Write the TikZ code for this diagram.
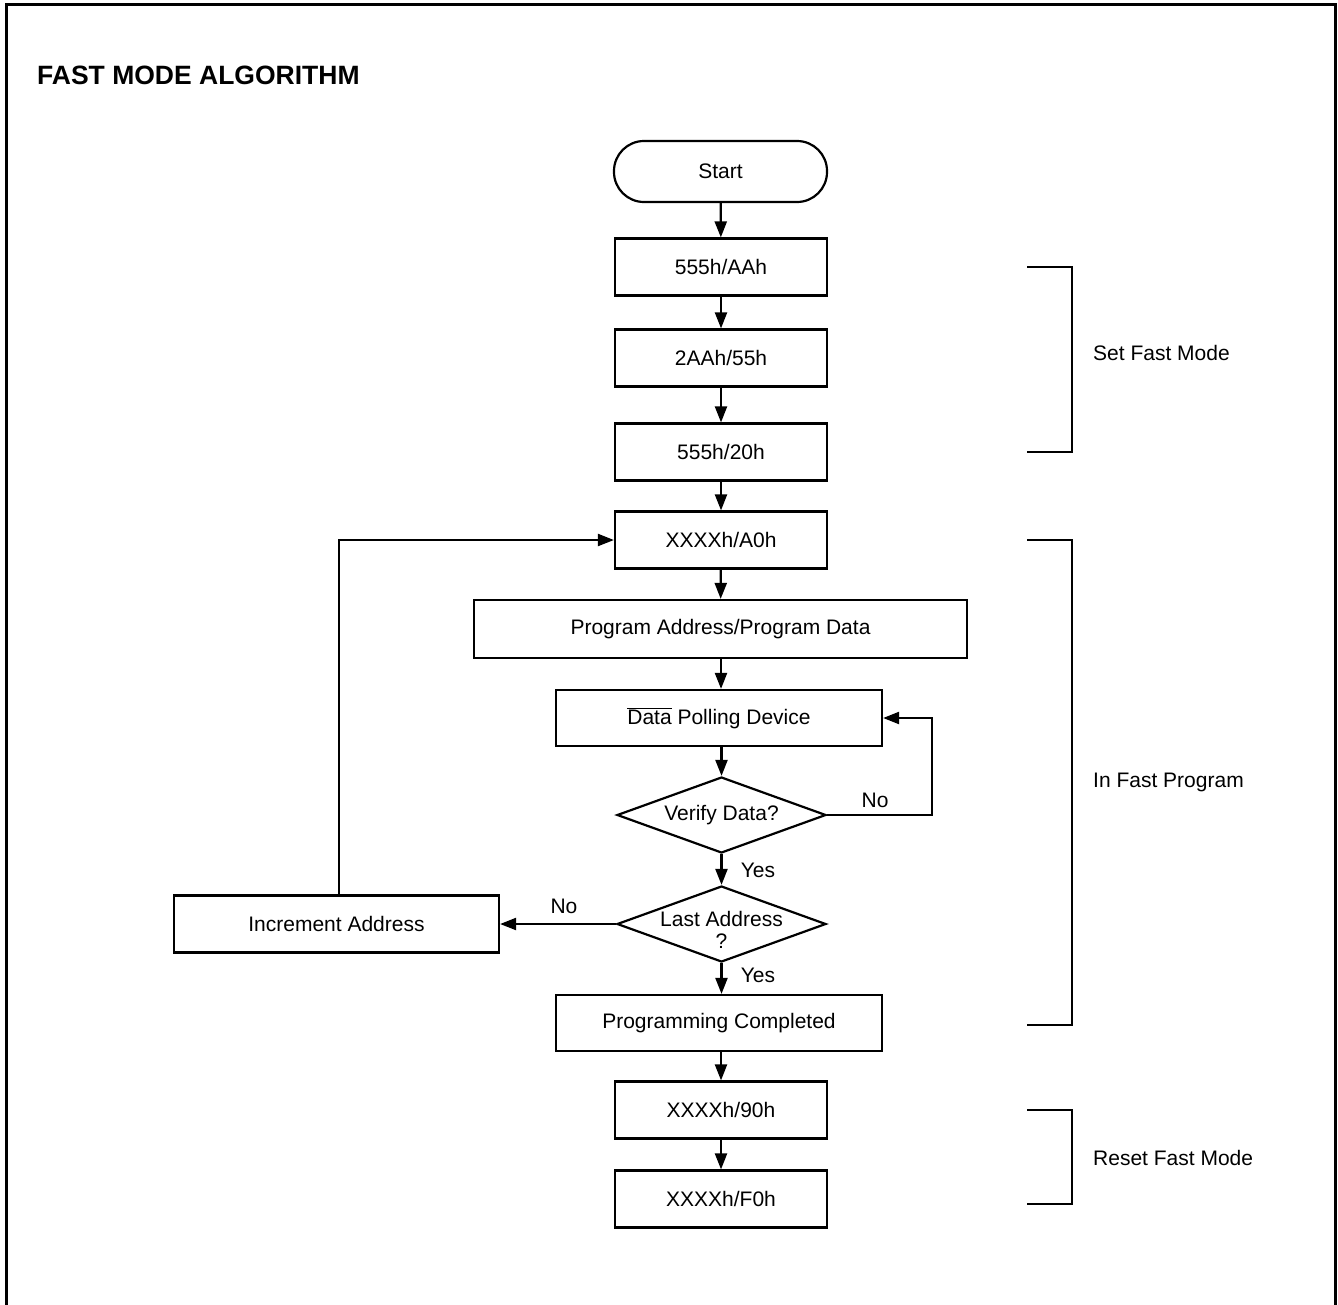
\documentclass[tikz,border=0pt]{standalone}
\usepackage{fontspec}
\setmainfont{Liberation Sans}
\usetikzlibrary{arrows.meta,shapes.geometric,shadows}
\begin{document}
\begin{tikzpicture}[x=1pt,y=-1pt,
  font=\fontsize{21}{25}\selectfont,
  conn/.style={line width=2.2pt,-{Triangle[length=16pt,width=12pt]}},
  stepbox/.style={draw,fill=white,line width=2.2pt,minimum height=57pt,inner sep=0pt,
     drop shadow={shadow xshift=1.2pt,shadow yshift=-1.2pt,fill=black,opacity=1}},
  decision/.style={draw,fill=white,diamond,line width=2.2pt,inner sep=0pt,minimum width=209pt,minimum height=76pt},
  lbl/.style={inner sep=0pt},
  brk/.style={line width=2.2pt}
]
\useasboundingbox (0,0) rectangle (1338,1304);
\draw[line width=3pt] (6,1310) -- (6,4) -- (1335,4) -- (1335,1310);
\node[lbl,anchor=west,font=\fontsize{26.5}{30}\selectfont\bfseries] (title) at (37,75) {FAST MODE ALGORITHM};

\node[draw,line width=2.2pt,rounded corners=30pt,minimum width=213pt,minimum height=61pt,inner sep=0pt] (start) at (720.5,171.5) {Start};
\node[stepbox,minimum width=212pt] (b1) at (721,267) {555h/AAh};
\node[stepbox,minimum width=212pt] (b2) at (721,358) {2AAh/55h};
\node[stepbox,minimum width=212pt] (b3) at (721,452) {555h/20h};
\node[stepbox,minimum width=212pt] (b4) at (721,540) {XXXXh/A0h};
\node[stepbox,minimum width=493pt,minimum height=58pt] (b5) at (720.5,629) {Program Address/Program Data};
\node[stepbox,minimum width=326pt,minimum height=56pt] (b6) at (719,718) {$\overline{\mbox{Data}}$ Polling Device};
\node[decision] (d1) at (721.5,815) {};
\node[lbl] at (d1) {Verify Data?};
\node[decision] (d2) at (721.5,924) {};
\node[lbl] at (721.5,919) {Last Address};
\node[lbl] at (721.5,941) {?};
\node[stepbox,minimum width=325pt,minimum height=57pt] (inc) at (336.5,924) {Increment Address};
\node[stepbox,minimum width=326pt,minimum height=56pt] (b7) at (719,1023) {Programming Completed};
\node[stepbox,minimum width=212pt] (b8) at (721,1110) {XXXXh/90h};
\node[stepbox,minimum width=212pt] (b9) at (721,1199) {XXXXh/F0h};

\draw[conn] (start) -- (b1);
\draw[conn] (b1) -- (b2);
\draw[conn] (b2) -- (b3);
\draw[conn] (b3) -- (b4);
\draw[conn] (b4) -- (b5);
\draw[conn] (b5.south -| b4) -- (b6.north -| b4);
\draw[conn] (b6.south -| d1) -- (d1.north);
\draw[conn] (d1.south) -- (d2.north);
\draw[conn] (d2.south) -- (b7.north -| d2);
\draw[conn] (b7.south -| b8) -- (b8);
\draw[conn] (b8) -- (b9);
\coordinate (vr) at (932,815);
\draw[conn] (d1.east) -- (vr) |- (b6.east);
\draw[conn] (d2.west) -- (inc.east);
\coordinate (lp) at (339,540);
\draw[conn] (inc.north -| lp) -- (lp) -- (b4.west);

\node[lbl] (no1) at (875,800) {No};
\node[lbl] (yes1) at (758,870) {Yes};
\node[lbl] (no2) at (564,906) {No};
\node[lbl] (yes2) at (758,975) {Yes};

\draw[brk] (1027,267) -- (1072,267) -- (1072,452) -- (1027,452);
\node[lbl,anchor=west] (s1) at (1093,353) {Set Fast Mode};
\draw[brk] (1027,540) -- (1072,540) -- (1072,1025) -- (1027,1025);
\node[lbl,anchor=west] (s2) at (1093,782) {In Fast Program};
\draw[brk] (1027,1110) -- (1072,1110) -- (1072,1204) -- (1027,1204);
\node[lbl,anchor=west] (s3) at (1093,1158) {Reset Fast Mode};
\end{tikzpicture}
\end{document}
